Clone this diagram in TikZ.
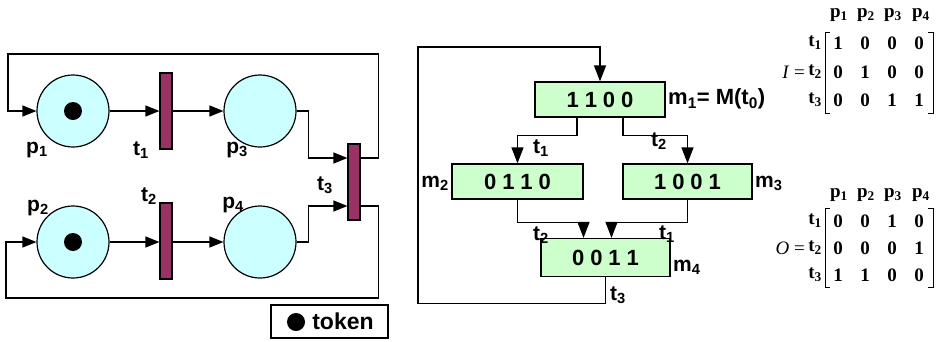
\documentclass[tikz,border=0pt]{standalone}
\usepackage{fontspec}
\setmainfont{Liberation Serif}
\setsansfont{Liberation Sans}
\usetikzlibrary{arrows.meta}
\definecolor{placefill}{HTML}{CCFFFF}
\definecolor{transfill}{HTML}{993366}
\definecolor{boxfill}{HTML}{CCFFCC}
\newcommand{\sbs}[1]{\textsubscript{#1}}
\newcommand{\dg}[4]{#1\hspace{0.27em}#2\hspace{0.27em}#3\hspace{0.27em}#4}
\begin{document}
\begin{tikzpicture}[x=1pt,y=-1pt,
  place/.style={circle,draw,fill=placefill,minimum size=72pt,inner sep=0pt,line width=1.2pt},
  trans/.style={rectangle,draw,fill=transfill,minimum width=12pt,minimum height=76pt,inner sep=0pt,line width=1.2pt},
  tok/.style={circle,fill=black,minimum size=18pt,inner sep=0pt},
  arr/.style={-{Triangle[length=14pt,width=11pt]},line width=1.2pt},
  arrb/.style={-{Triangle[length=16pt,width=12pt]},line width=1.2pt},
  lbl/.style={font=\sffamily\bfseries\fontsize{21}{21}\selectfont,inner sep=0pt},
  mlbl/.style={font=\sffamily\bfseries\fontsize{21}{21}\selectfont,inner sep=0pt},
  mbox/.style={rectangle,draw,fill=boxfill,line width=1.2pt,inner sep=0pt,font=\sffamily\bfseries\fontsize{22}{22}\selectfont},
  mt/.style={font=\bfseries\fontsize{19}{19}\selectfont,inner sep=0pt},
  brk/.style={line width=1pt}]
\useasboundingbox (0,0) rectangle (942,341);
% Petri net
\node[place] (p1) at (73,111) {};
\node[place] (p2) at (73,242) {};
\node[place] (p3) at (260,111) {};
\node[place] (p4) at (260,242) {};
\node[tok] (k1) at (p1) {};
\node[tok] (k2) at (p2) {};
\node[trans] (t1) at (166,111) {};
\node[trans] (t2) at (166,241) {};
\node[trans] (t3) at (354,182) {};
\draw[arr] (p1.east) -- (t1.west);
\draw[arr] (t1.east) -- (p3.west);
\draw[arr] (p2.east) -- (t2.west |- p2.east);
\draw[arr] (t2.east |- p4.west) -- (p4.west);
\draw[arr] (p3.east) -- ++(12,0) |- ([yshift=24pt]t3.west);
\draw[arr] (p4.east) -- ++(12,0) |- ([yshift=-24pt]t3.west);
\draw[arr] ([yshift=24pt]t3.east) -- ++(18,0) |- (8,54) |- (p1.west);
\draw[arr] ([yshift=-24pt]t3.east) -- ++(18,0) |- (6,298) |- (p2.west);
\node[lbl] (lp1) at (37,150) {p\sbs{1}};
\node[lbl] (lt1) at (141,150) {t\sbs{1}};
\node[lbl] (lp3) at (237,150) {p\sbs{3}};
\node[lbl] (lp2) at (38,208) {p\sbs{2}};
\node[lbl] (lt2) at (149,196) {t\sbs{2}};
\node[lbl] (lp4) at (233,205) {p\sbs{4}};
\node[lbl] (lt3) at (325,185) {t\sbs{3}};
% legend
\node[draw,line width=1.2pt,minimum width=117pt,minimum height=33pt,inner sep=0pt] (legend) at (329.5,321.5) {};
\node[tok] (ktok) at (296,322) {};
\node[lbl,font=\sffamily\bfseries\fontsize{23}{23}\selectfont] (ltok) at (343,321) {token};
% reachability graph
\node[mbox,minimum width=130pt,minimum height=35pt] (m1) at (600,99.5) {\dg1100};
\node[mbox,minimum width=131pt,minimum height=35pt] (m2) at (517.5,181.5) {\dg0110};
\node[mbox,minimum width=129pt,minimum height=35pt] (m3) at (687.5,181.5) {\dg1001};
\node[mbox,minimum width=129pt,minimum height=38pt] (m4) at (605.5,257.5) {\dg0011};
\draw[arrb] ([xshift=-23pt]m1.south) -- ++(0,18) -| (m2.north);
\draw[arrb] ([xshift=23pt]m1.south) -- ++(0,18) -| (m3.north);
\draw[arrb] (m2.south) -- ++(0,23) -| ([xshift=-22pt]m4.north);
\draw[arrb] (m3.south) -- ++(0,23) -| ([xshift=6pt]m4.north);
\draw[arrb] (m4.south) -- ++(0,26) -| (418,47) -| (m1.north);
\node[mlbl,anchor=west,font=\sffamily\bfseries\fontsize{22}{22}\selectfont] (lm1) at (668,99) {m\sbs{1}= M(t\sbs{0})};
\node[mlbl,anchor=east] (lm2) at (449,183) {m\sbs{2}};
\node[mlbl,anchor=west] (lm3) at (755,183) {m\sbs{3}};
\node[mlbl,anchor=west] (lm4) at (673,267) {m\sbs{4}};
\node[mlbl] (e1) at (541,148) {t\sbs{1}};
\node[mlbl] (e2) at (659,141) {t\sbs{2}};
\node[mlbl] (e3) at (541,235) {t\sbs{2}};
\node[mlbl] (e4) at (667,234) {t\sbs{1}};
\node[mlbl] (e5) at (618,295) {t\sbs{3}};
% matrix I
\foreach \x/\i in {839/1,866/2,893/3,921/4} \node[mt] (ih\i) at (\x,15) {p\sbs{\i}};
\foreach \y/\i in {43/1,72/2,100/3} \node[mt,anchor=east] (ir\i) at (822,\y) {t\sbs{\i}};
\node[inner sep=0pt,anchor=east,font=\fontsize{19}{19}\selectfont] (ieq) at (805,72) {\textit{I} =};
\foreach \r/\y/\a/\b/\c/\d in {1/43/1/0/0/0,2/72/0/1/0/0,3/100/0/0/1/1}{
  \node[mt] (i\r a) at (838,\y) {\a};
  \node[mt] (i\r b) at (865,\y) {\b};
  \node[mt] (i\r c) at (892,\y) {\c};
  \node[mt] (i\r d) at (919,\y) {\d};}
\draw[brk] (830,32) -- (825,32) -- (825,113) -- (830,113);
\draw[brk] (928,32) -- (933,32) -- (933,113) -- (928,113);
% matrix O
\foreach \x/\i in {839/1,866/2,893/3,921/4} \node[mt] (oh\i) at (\x,195) {p\sbs{\i}};
\foreach \y/\i in {221/1,248/2,275/3} \node[mt,anchor=east] (or\i) at (822,\y) {t\sbs{\i}};
\node[inner sep=0pt,anchor=east,font=\fontsize{19}{19}\selectfont] (oeq) at (805,248) {\textit{O} =};
\foreach \r/\y/\a/\b/\c/\d in {1/221/0/0/1/0,2/248/0/0/0/1,3/275/1/1/0/0}{
  \node[mt] (o\r a) at (838,\y) {\a};
  \node[mt] (o\r b) at (865,\y) {\b};
  \node[mt] (o\r c) at (892,\y) {\c};
  \node[mt] (o\r d) at (919,\y) {\d};}
\draw[brk] (830,208) -- (825,208) -- (825,287) -- (830,287);
\draw[brk] (928,208) -- (933,208) -- (933,287) -- (928,287);
\end{tikzpicture}
\end{document}
